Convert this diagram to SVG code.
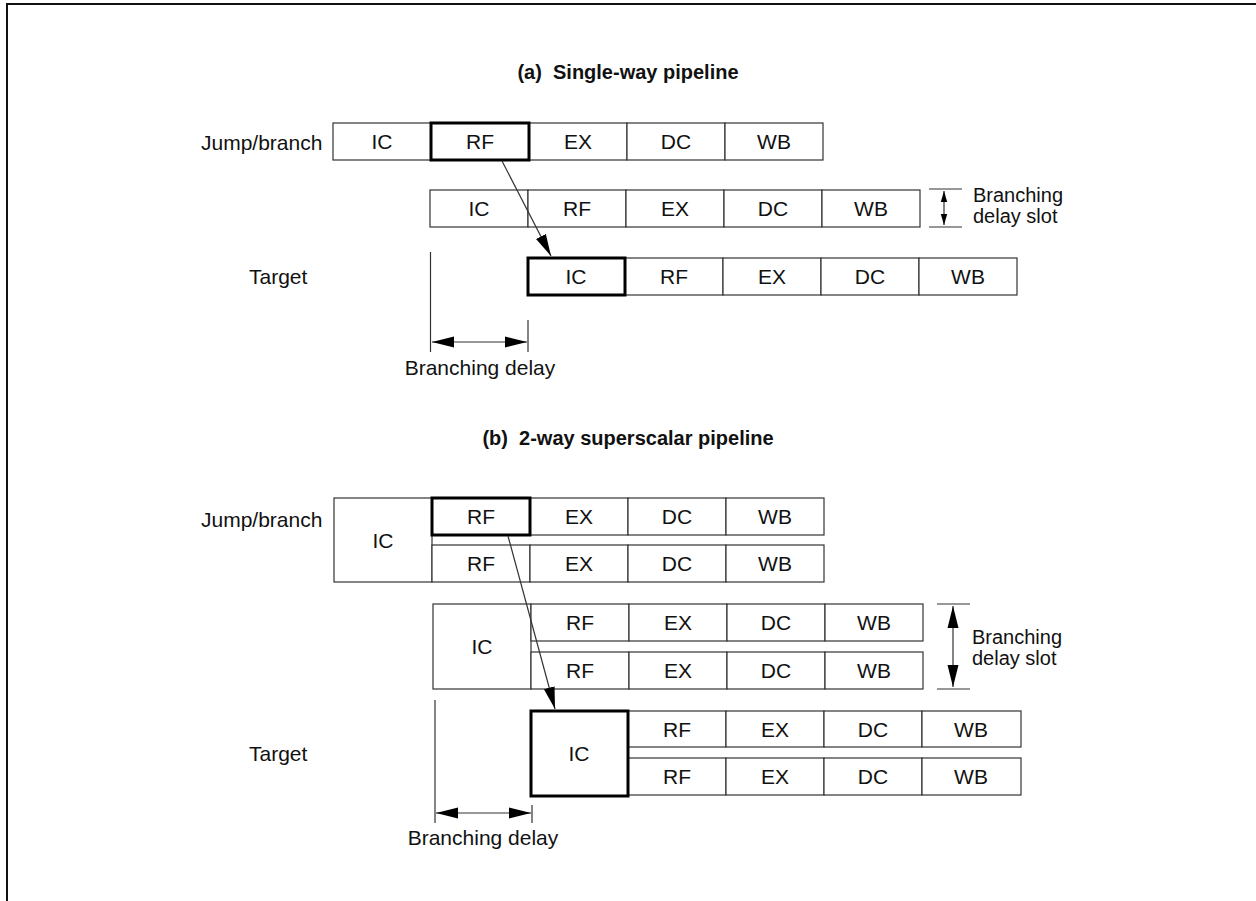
<svg xmlns="http://www.w3.org/2000/svg" width="1256" height="901" viewBox="0 0 1256 901">
  <style>
    .cell { fill: #fff; stroke: #333; stroke-width: 1.2; }
    .bold { fill: none; stroke: #000; stroke-width: 3; }
    .t { font-family: "Liberation Sans", Arial, sans-serif; font-size: 21px; fill: #111; }
    .s { font-size: 20px; }
    .c { text-anchor: middle; }
    .title { font-family: "Liberation Sans", Arial, sans-serif; font-size: 20px; font-weight: bold; fill: #111; text-anchor: middle; }
    .ln { stroke: #333; stroke-width: 1.2; fill: none; }
    .frame { stroke: #111; stroke-width: 2; fill: none; }
  </style>
  <defs>
    <marker id="ahBig" markerUnits="userSpaceOnUse" markerWidth="24" markerHeight="12" refX="22" refY="6" orient="auto-start-reverse">
      <path d="M0,0.5 L22,6 L0,11.5 z" fill="#000"/>
    </marker>
    <marker id="ahSmall" markerUnits="userSpaceOnUse" markerWidth="12" markerHeight="8" refX="11" refY="4" orient="auto-start-reverse">
      <path d="M0,0.8 L11,4 L0,7.2 z" fill="#000"/>
    </marker>
  </defs>

  <rect width="1256" height="901" fill="#fff"/>
  <path class="frame" d="M7,901 V4 H1256"/>

  <!-- (a) single-way pipeline -->
  <text class="title" x="628" y="79" xml:space="preserve">(a)  Single-way pipeline</text>

  <g id="a-jump">
    <text class="t" x="201" y="150">Jump/branch</text>
    <rect class="cell" x="333" y="123" width="98" height="37"/><text class="t c" x="382" y="149">IC</text>
    <rect class="cell" x="431" y="123" width="98" height="37"/><text class="t c" x="480" y="149">RF</text>
    <rect class="cell" x="529" y="123" width="98" height="37"/><text class="t c" x="578" y="149">EX</text>
    <rect class="cell" x="627" y="123" width="98" height="37"/><text class="t c" x="676" y="149">DC</text>
    <rect class="cell" x="725" y="123" width="98" height="37"/><text class="t c" x="774" y="149">WB</text>
    <rect class="bold" x="431" y="123" width="98" height="37"/>
  </g>

  <g id="a-slot">
    <rect class="cell" x="430" y="190" width="98" height="37"/><text class="t c" x="479" y="216">IC</text>
    <rect class="cell" x="528" y="190" width="98" height="37"/><text class="t c" x="577" y="216">RF</text>
    <rect class="cell" x="626" y="190" width="98" height="37"/><text class="t c" x="675" y="216">EX</text>
    <rect class="cell" x="724" y="190" width="98" height="37"/><text class="t c" x="773" y="216">DC</text>
    <rect class="cell" x="822" y="190" width="98" height="37"/><text class="t c" x="871" y="216">WB</text>
  </g>

  <g id="a-slot-label">
    <text class="t s" x="973" y="202">Branching</text>
    <text class="t s" x="973" y="223">delay slot</text>
  </g>

  <g id="a-target">
    <text class="t" x="249" y="284">Target</text>
    <rect class="cell" x="528" y="258" width="97" height="37"/><text class="t c" x="576" y="284">IC</text>
    <rect class="cell" x="625" y="258" width="98" height="37"/><text class="t c" x="674" y="284">RF</text>
    <rect class="cell" x="723" y="258" width="98" height="37"/><text class="t c" x="772" y="284">EX</text>
    <rect class="cell" x="821" y="258" width="98" height="37"/><text class="t c" x="870" y="284">DC</text>
    <rect class="cell" x="919" y="258" width="98" height="37"/><text class="t c" x="968" y="284">WB</text>
    <rect class="bold" x="528" y="258" width="97" height="37"/>
  </g>

  <g id="a-delay-label">
    <text class="t c" x="480" y="375">Branching delay</text>
  </g>

  <!-- (b) 2-way superscalar pipeline -->
  <text class="title" x="628" y="445" xml:space="preserve">(b)  2-way superscalar pipeline</text>

  <g id="b-jump">
    <text class="t" x="201" y="527">Jump/branch</text>
    <rect class="cell" x="334" y="498" width="98" height="84"/><text class="t c" x="383" y="548">IC</text>
    <rect class="cell" x="432" y="498" width="98" height="37"/><text class="t c" x="481" y="524">RF</text>
    <rect class="cell" x="530" y="498" width="98" height="37"/><text class="t c" x="579" y="524">EX</text>
    <rect class="cell" x="628" y="498" width="98" height="37"/><text class="t c" x="677" y="524">DC</text>
    <rect class="cell" x="726" y="498" width="98" height="37"/><text class="t c" x="775" y="524">WB</text>
    <rect class="cell" x="432" y="545" width="98" height="37"/><text class="t c" x="481" y="571">RF</text>
    <rect class="cell" x="530" y="545" width="98" height="37"/><text class="t c" x="579" y="571">EX</text>
    <rect class="cell" x="628" y="545" width="98" height="37"/><text class="t c" x="677" y="571">DC</text>
    <rect class="cell" x="726" y="545" width="98" height="37"/><text class="t c" x="775" y="571">WB</text>
    <rect class="bold" x="432" y="498" width="98" height="37"/>
  </g>

  <g id="b-slot">
    <rect class="cell" x="433" y="604" width="98" height="85"/><text class="t c" x="482" y="654">IC</text>
    <rect class="cell" x="531" y="604" width="98" height="37"/><text class="t c" x="580" y="630">RF</text>
    <rect class="cell" x="629" y="604" width="98" height="37"/><text class="t c" x="678" y="630">EX</text>
    <rect class="cell" x="727" y="604" width="98" height="37"/><text class="t c" x="776" y="630">DC</text>
    <rect class="cell" x="825" y="604" width="98" height="37"/><text class="t c" x="874" y="630">WB</text>
    <rect class="cell" x="531" y="652" width="98" height="37"/><text class="t c" x="580" y="678">RF</text>
    <rect class="cell" x="629" y="652" width="98" height="37"/><text class="t c" x="678" y="678">EX</text>
    <rect class="cell" x="727" y="652" width="98" height="37"/><text class="t c" x="776" y="678">DC</text>
    <rect class="cell" x="825" y="652" width="98" height="37"/><text class="t c" x="874" y="678">WB</text>
  </g>

  <g id="b-slot-label">
    <text class="t s" x="972" y="644">Branching</text>
    <text class="t s" x="972" y="665">delay slot</text>
  </g>

  <g id="b-target">
    <text class="t" x="249" y="761">Target</text>
    <rect class="cell" x="628" y="711" width="98" height="36"/><text class="t c" x="677" y="737">RF</text>
    <rect class="cell" x="726" y="711" width="98" height="36"/><text class="t c" x="775" y="737">EX</text>
    <rect class="cell" x="824" y="711" width="98" height="36"/><text class="t c" x="873" y="737">DC</text>
    <rect class="cell" x="922" y="711" width="99" height="36"/><text class="t c" x="971" y="737">WB</text>
    <rect class="cell" x="628" y="758" width="98" height="37"/><text class="t c" x="677" y="784">RF</text>
    <rect class="cell" x="726" y="758" width="98" height="37"/><text class="t c" x="775" y="784">EX</text>
    <rect class="cell" x="824" y="758" width="98" height="37"/><text class="t c" x="873" y="784">DC</text>
    <rect class="cell" x="922" y="758" width="99" height="37"/><text class="t c" x="971" y="784">WB</text>
    <rect class="cell" x="531" y="711" width="97" height="85"/><text class="t c" x="579" y="761">IC</text>
    <rect class="bold" x="531" y="711" width="97" height="85"/>
  </g>

  <g id="b-delay-label">
    <text class="t c" x="483" y="845">Branching delay</text>
  </g>

  <g id="connectors">
    <!-- jump resolution to target fetch -->
    <line class="ln" x1="502" y1="161" x2="551" y2="256" stroke="#000" marker-end="url(#ahBig)"/>
    <line class="ln" x1="508" y1="536" x2="555" y2="709" stroke="#000" marker-end="url(#ahBig)"/>

    <!-- delay slot brackets -->
    <line class="ln" x1="929" y1="189" x2="962" y2="189"/>
    <line class="ln" x1="929" y1="227" x2="962" y2="227"/>
    <line class="ln" x1="944" y1="191" x2="944" y2="225" stroke="#000" marker-start="url(#ahSmall)" marker-end="url(#ahSmall)"/>

    <line class="ln" x1="937" y1="604" x2="970" y2="604"/>
    <line class="ln" x1="937" y1="689" x2="970" y2="689"/>
    <line class="ln" x1="953" y1="606" x2="953" y2="687" stroke="#000" marker-start="url(#ahBig)" marker-end="url(#ahBig)"/>

    <!-- branching delay dimensions -->
    <line class="ln" x1="430.5" y1="252" x2="430.5" y2="352"/>
    <line class="ln" x1="528" y1="320" x2="528" y2="352"/>
    <line class="ln" x1="432" y1="342" x2="527" y2="342" stroke="#000" marker-start="url(#ahBig)" marker-end="url(#ahBig)"/>

    <line class="ln" x1="435" y1="700" x2="435" y2="823"/>
    <line class="ln" x1="532" y1="805" x2="532" y2="823"/>
    <line class="ln" x1="436" y1="813" x2="531" y2="813" stroke="#000" marker-start="url(#ahBig)" marker-end="url(#ahBig)"/>
  </g>
</svg>
